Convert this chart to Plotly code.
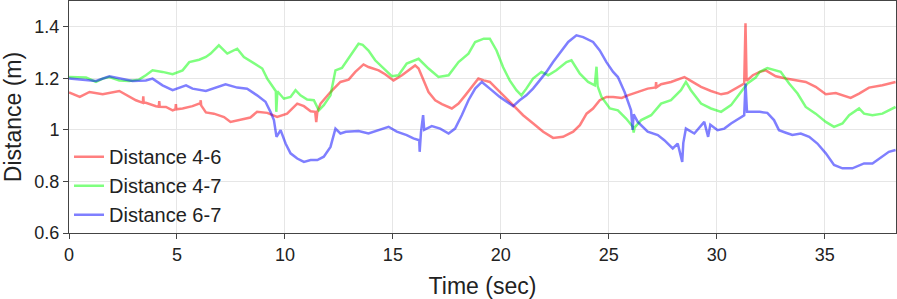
import plotly.graph_objects as go

# Distance 4-6 (red)
t_46 = [0.0, 0.5, 0.95, 1.56, 2.33, 2.72, 3.1, 3.42, 3.44, 3.46, 3.56, 4.03, 4.16, 4.18, 4.2, 4.49, 4.8,
        4.93, 4.95, 4.97, 5.26, 5.72, 6.03, 6.08, 6.1, 6.12, 6.34, 6.71, 7.18, 7.48, 7.94, 8.4, 8.71, 9.18,
        9.64, 10.1, 10.57, 10.88, 11.19, 11.4, 11.45, 11.5, 11.65, 12.11, 12.57, 12.95, 13.26, 13.64, 13.87,
        14.34, 14.64, 15.03, 15.42, 15.72, 16.03, 16.19, 16.42, 16.65, 16.96, 17.27, 17.73, 18.04, 18.35,
        18.66, 18.96, 19.21, 19.49, 19.8, 20.26, 20.57, 21.03, 21.5, 21.96, 22.42, 22.88, 23.35, 23.66,
        23.97, 24.27, 24.58, 24.89, 25.2, 25.6, 25.88, 26.34, 26.8, 27.17, 27.19, 27.21, 27.42, 27.88,
        28.5, 28.8, 29.27, 29.73, 30.2, 30.5, 30.97, 31.27, 31.33, 31.38, 31.67, 31.99, 32.27, 32.73,
        33.2, 33.66, 34.12, 34.58, 35.05, 35.51, 36.2, 36.59, 37.05, 37.67, 38.28]
v_46 = [1.145, 1.128, 1.147, 1.138, 1.151, 1.134, 1.115, 1.105, 1.13, 1.105, 1.105, 1.092, 1.09, 1.112, 1.09,
        1.089, 1.076, 1.08, 1.1, 1.08, 1.083, 1.092, 1.102, 1.1, 1.115, 1.095, 1.068, 1.063, 1.05, 1.031,
        1.038, 1.048, 1.07, 1.066, 1.05, 1.063, 1.102, 1.092, 1.072, 1.07, 1.03, 1.07, 1.102, 1.147, 1.186,
        1.195, 1.225, 1.254, 1.244, 1.231, 1.216, 1.192, 1.212, 1.231, 1.25, 1.238, 1.192, 1.147, 1.115,
        1.1, 1.083, 1.102, 1.134, 1.167, 1.199, 1.192, 1.186, 1.16, 1.121, 1.096, 1.057, 1.025, 0.993,
        0.969, 0.973, 0.993, 1.018, 1.063, 1.083, 1.115, 1.128, 1.128, 1.124, 1.134, 1.147, 1.16, 1.165,
        1.185, 1.165, 1.177, 1.186, 1.205, 1.19, 1.167, 1.151, 1.138, 1.143, 1.167, 1.18, 1.414, 1.19,
        1.212, 1.225, 1.231, 1.208, 1.199, 1.192, 1.186, 1.167, 1.138, 1.143, 1.124, 1.141, 1.164, 1.173,
        1.186]

# Distance 4-7 (green)
t_47 = [0.0, 0.79, 1.25, 1.56, 1.87, 2.33, 2.79, 3.24, 3.56, 3.87, 4.33, 4.8, 5.26, 5.57, 6.03, 6.34,
        6.56, 6.94, 7.33, 7.79, 8.1, 8.56, 8.95, 9.18, 9.49, 9.58, 9.6, 9.65, 9.95, 10.26, 10.49, 10.72,
        11.03, 11.34, 11.57, 11.8, 12.11, 12.34, 12.64, 12.95, 13.41, 13.6, 13.87, 14.18, 14.64, 14.95,
        15.26, 15.64, 16.19, 16.65, 17.11, 17.58, 18.04, 18.5, 18.81, 19.21, 19.49, 19.8, 20.1, 20.41,
        20.72, 20.95, 21.18, 21.49, 21.88, 22.19, 22.57, 23.04, 23.27, 23.66, 24.04, 24.35, 24.43, 24.48,
        24.66, 25.05, 25.42, 25.8, 26.11, 26.15, 26.2, 26.5, 26.96, 27.42, 27.88, 28.34, 28.57, 28.8,
        29.27, 29.73, 30.2, 30.66, 31.12, 31.42, 31.8, 31.99, 32.34, 32.65, 32.96, 33.35, 33.74, 34.12,
        34.58, 35.05, 35.43, 35.82, 36.13, 36.59, 36.82, 37.21, 37.67, 38.28]
v_47 = [1.205, 1.203, 1.186, 1.199, 1.205, 1.192, 1.19, 1.195, 1.212, 1.231, 1.225, 1.216, 1.231, 1.263,
        1.272, 1.283, 1.296, 1.328, 1.296, 1.315, 1.283, 1.257, 1.238, 1.199, 1.16, 1.15, 1.07, 1.15,
        1.121, 1.128, 1.154, 1.134, 1.118, 1.115, 1.076, 1.096, 1.134, 1.231, 1.24, 1.276, 1.334, 1.33,
        1.308, 1.27, 1.231, 1.208, 1.212, 1.257, 1.276, 1.238, 1.205, 1.212, 1.263, 1.296, 1.341, 1.354,
        1.354, 1.308, 1.244, 1.192, 1.154, 1.134, 1.16, 1.199, 1.225, 1.212, 1.231, 1.263, 1.27, 1.218,
        1.186, 1.173, 1.245, 1.17, 1.128, 1.083, 1.076, 1.044, 1.012, 0.99, 1.01, 1.038, 1.057, 1.102,
        1.115, 1.154, 1.186, 1.154, 1.102, 1.083, 1.07, 1.096, 1.147, 1.18, 1.203, 1.225, 1.24, 1.231,
        1.225, 1.18, 1.141, 1.089, 1.063, 1.031, 1.012, 1.025, 1.057, 1.083, 1.063, 1.057, 1.063, 1.089]

# Distance 6-7 (blue)
t_67 = [0.0, 0.79, 1.25, 1.87, 2.33, 2.94, 3.56, 3.87, 4.33, 4.8, 5.42, 5.72, 6.34, 6.87, 7.25, 7.79,
        8.25, 8.71, 9.1, 9.33, 9.49, 9.61, 9.8, 10.03, 10.26, 10.57, 10.88, 11.19, 11.5, 11.8, 12.11,
        12.34, 12.57, 12.82, 13.41, 13.87, 14.34, 14.8, 15.18, 15.64, 15.95, 16.22, 16.24, 16.3, 16.4,
        16.45, 16.8, 17.19, 17.58, 17.88, 18.19, 18.5, 18.81, 19.12, 19.49, 19.95, 20.57, 20.87, 21.18,
        21.49, 21.8, 22.11, 22.42, 22.73, 23.12, 23.5, 23.81, 24.27, 24.58, 24.89, 25.2, 25.42, 25.73,
        26.03, 26.1, 26.15, 26.34, 26.8, 27.27, 27.57, 27.96, 28.19, 28.4, 28.45, 28.57, 28.96, 29.42,
        29.6, 29.7, 30.04, 30.35, 30.66, 31.12, 31.27, 31.33, 31.4, 31.99, 32.34, 32.65, 32.88, 33.2,
        33.5, 33.89, 34.28, 34.66, 35.05, 35.43, 35.82, 36.28, 36.82, 37.21, 37.67, 37.97, 38.28]
v_67 = [1.199, 1.195, 1.19, 1.208, 1.199, 1.19, 1.192, 1.199, 1.173, 1.154, 1.173, 1.16, 1.151, 1.167,
        1.177, 1.164, 1.16, 1.134, 1.109, 1.07, 1.038, 0.973, 0.999, 0.947, 0.909, 0.889, 0.876, 0.883,
        0.883, 0.896, 0.934, 1.005, 0.986, 0.993, 0.996, 0.986, 0.999, 1.012, 0.993, 0.98, 0.967, 0.96,
        0.915, 0.99, 1.057, 1.0, 1.015, 1.005, 0.986, 1.005, 1.057, 1.115, 1.16, 1.186, 1.16, 1.128, 1.092,
        1.115, 1.134, 1.16, 1.192, 1.225, 1.263, 1.296, 1.341, 1.367, 1.36, 1.341, 1.308, 1.263, 1.225,
        1.205, 1.147, 1.076, 1.0, 1.06, 1.031, 0.993, 0.98, 0.96, 0.928, 0.947, 0.876, 0.95, 1.005, 0.986,
        1.031, 0.973, 1.02, 0.999, 1.005, 1.025, 1.051, 1.057, 1.18, 1.07, 1.07, 1.066, 1.038, 0.999,
        0.989, 0.98, 0.986, 0.973, 0.947, 0.909, 0.864, 0.851, 0.851, 0.87, 0.87, 0.896, 0.915, 0.922]

series_names = ["Distance 4-6", "Distance 4-7", "Distance 6-7"]
series_colors = ["rgba(255,0,0,0.5)", "rgba(0,255,0,0.5)", "rgba(0,0,255,0.5)"]

fig = go.Figure()
for name, tx, vy, col in zip(series_names, [t_46, t_47, t_67], [v_46, v_47, v_67], series_colors):
    fig.add_trace(go.Scatter(x=tx, y=vy, mode="lines", name=name, legendgroup=name,
                             line=dict(color=col, width=2.5)))

axis_common = dict(showline=True, linecolor="#444", linewidth=1, mirror=True,
                   showgrid=True, gridcolor="#e6e6e6", gridwidth=1, zeroline=False,
                   ticks="outside", ticklen=5, tickcolor="#444",
                   tickfont=dict(size=18, color="#222"))

fig.update_layout(
    width=897, height=299,
    margin=dict(l=69, r=1, t=1, b=66),
    paper_bgcolor="white", plot_bgcolor="white",
    font=dict(family="Liberation Sans, Arial, sans-serif", color="#222"),
    xaxis=dict(range=[0, 38.3], dtick=5, tick0=0,
               title=dict(text="Time (sec)", font=dict(size=23), standoff=15), **axis_common),
    yaxis=dict(range=[0.6, 1.5], dtick=0.2, tick0=0.6,
               title=dict(text="Distance (m)", font=dict(size=23), standoff=6), **axis_common),
    legend=dict(x=0.0, y=-0.005, xanchor="left", yanchor="bottom", bgcolor="rgba(0,0,0,0)",
                font=dict(size=20), traceorder="grouped", tracegroupgap=0),
    showlegend=True,
)

fig.write_html("out.html", config={"displayModeBar": False},
               post_script="document.body.style.margin='0';document.body.style.overflow='hidden';")
